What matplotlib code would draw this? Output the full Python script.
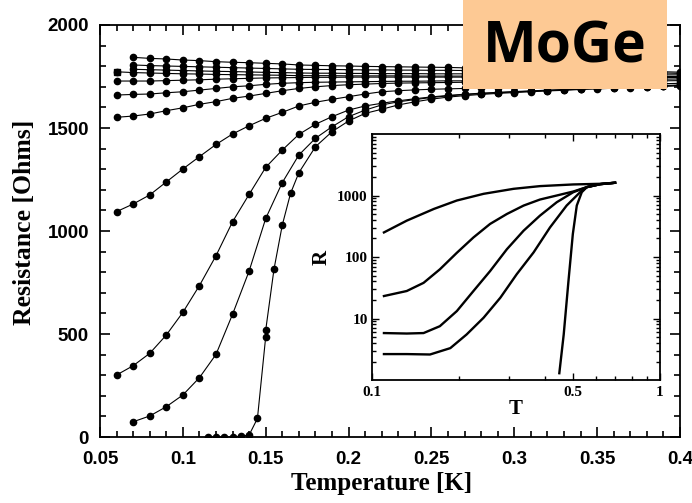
import matplotlib.pyplot as plt
import numpy as np
from matplotlib.ticker import MultipleLocator, FixedLocator, NullFormatter, FixedFormatter

# measured temperatures (K)
temps = [0.06, 0.07, 0.08, 0.09, 0.10, 0.11, 0.12, 0.13, 0.14, 0.15,
         0.16, 0.17, 0.18, 0.19, 0.20, 0.21, 0.22, 0.23, 0.24, 0.25,
         0.26, 0.27, 0.28, 0.29, 0.30, 0.31, 0.32, 0.33, 0.34, 0.35,
         0.36, 0.37, 0.38, 0.39, 0.40]

# resistance curves (Ohms), from top to bottom
r1 = [1843, 1838, 1835, 1830, 1827, 1822, 1819, 1817, 1814, 1811, 1806, 1804,
      1802, 1801, 1799, 1798, 1797, 1796, 1795, 1794, 1792, 1790, 1789, 1787,
      1785, 1784, 1782, 1780, 1779, 1777, 1776, 1774, 1773, 1771]
r2 = [1806, 1803, 1801, 1799, 1797, 1795, 1793, 1791, 1789, 1787, 1785, 1784,
      1784, 1783, 1782, 1782, 1781, 1781, 1780, 1780, 1779, 1778, 1777, 1776,
      1775, 1774, 1773, 1772, 1771, 1770, 1769, 1768, 1767, 1765]
r3 = [1785, 1783, 1781, 1779, 1777, 1775, 1774, 1772, 1770, 1769, 1767, 1766,
      1766, 1765, 1765, 1764, 1764, 1764, 1763, 1763, 1763, 1762, 1762, 1762,
      1761, 1761, 1760, 1760, 1760, 1759, 1759, 1759, 1758, 1758]
r4 = [1773, 1769, 1767, 1765, 1763, 1762, 1760, 1759, 1758, 1757, 1756, 1754,
      1754, 1754, 1753, 1753, 1753, 1753, 1752, 1752, 1752, 1752, 1752, 1751,
      1751, 1751, 1751, 1751, 1751, 1750, 1750, 1750, 1750, 1750, 1750]
r5 = [1728, 1728, 1728, 1730, 1732, 1734, 1737, 1739, 1741, 1743, 1744, 1745,
      1746, 1746, 1747, 1747, 1747, 1747, 1747, 1747, 1747, 1747, 1747, 1747,
      1747, 1746, 1746, 1746, 1746, 1746, 1746, 1745, 1745, 1745, 1745]
r6 = [1660, 1663, 1665, 1671, 1676, 1684, 1692, 1700, 1705, 1712, 1717, 1720,
      1722, 1723, 1724, 1725, 1726, 1727, 1727, 1728, 1729, 1729, 1730, 1731,
      1731, 1732, 1733, 1733, 1734, 1735, 1735, 1736, 1736, 1737, 1738]
r7 = [1552, 1558, 1568, 1584, 1598, 1615, 1628, 1644, 1655, 1668, 1681, 1692,
      1700, 1706, 1710, 1713, 1716, 1718, 1719, 1720, 1721, 1722, 1723, 1723,
      1724, 1725, 1725, 1726, 1726, 1727, 1727, 1728, 1728, 1729, 1730]
r8 = [1094, 1131, 1175, 1238, 1301, 1361, 1420, 1471, 1511, 1547, 1576, 1607,
      1625, 1639, 1652, 1665, 1676, 1681, 1685, 1688, 1690, 1692, 1694, 1696,
      1698, 1700, 1702, 1704, 1705, 1707, 1709, 1711, 1713, 1715, 1717]
r9 = [301, 346, 406, 495, 605, 735, 880, 1045, 1178, 1309, 1393, 1469, 1518,
      1555, 1587, 1607, 1620, 1632, 1642, 1651, 1658, 1664, 1669, 1673, 1677,
      1680, 1684, 1687, 1690, 1694, 1697, 1700, 1703, 1706, 1709]
r10 = [74, 102, 147, 204, 288, 401, 596, 806, 1061, 1235, 1369, 1450, 1506,
       1555, 1587, 1612, 1627, 1638, 1648, 1656, 1662, 1667, 1671, 1675, 1679,
       1682, 1685, 1689, 1692, 1695, 1698, 1701, 1704, 1707]
t11 = [0.115, 0.12, 0.125, 0.13, 0.135, 0.14, 0.145, 0.15, 0.15, 0.155, 0.16,
       0.165, 0.17] + temps[12:]
r11 = [0, 0, 0, 2, 3, 10, 90, 487, 519, 815, 1029, 1183, 1283,
       1409, 1482, 1534, 1571, 1591, 1612, 1627, 1640, 1650, 1657, 1663, 1668,
       1672, 1676, 1680, 1683, 1687, 1690, 1693, 1696, 1699, 1702, 1705]

# inset (log-log) curves
in_t1 = [0.110, 0.132, 0.164, 0.197, 0.244, 0.310, 0.383, 0.50, 0.62, 0.698]
in_r1 = [251, 390, 605, 829, 1065, 1284, 1421, 1513, 1550, 1611]
in_t2 = [0.110, 0.132, 0.151, 0.172, 0.197, 0.225, 0.257, 0.294, 0.336, 0.383,
         0.438, 0.50, 0.557, 0.62, 0.698]
in_r2 = [23.2, 28, 38, 63, 117, 208, 345, 501, 686, 860, 1000, 1162, 1368, 1530, 1611]
in_t3 = [0.110, 0.132, 0.151, 0.172, 0.197, 0.225, 0.257, 0.294, 0.336, 0.383,
         0.438, 0.50, 0.557, 0.62, 0.698]
in_r3 = [5.8, 5.7, 5.8, 7.5, 13.2, 28, 59, 134, 268, 471, 778, 1133, 1368, 1530, 1611]
in_t4 = [0.110, 0.132, 0.159, 0.187, 0.213, 0.244, 0.279, 0.318, 0.364, 0.415,
         0.474, 0.528, 0.557, 0.62, 0.698]
in_r4 = [2.64, 2.64, 2.6, 3.3, 5.5, 10.3, 21.8, 52.5, 119, 303, 687, 1133, 1368, 1530, 1611]
in_t5 = [0.447, 0.463, 0.481, 0.498, 0.514, 0.535, 0.557, 0.62, 0.698]
in_r5 = [1.29, 5.5, 41, 236, 687, 1133, 1368, 1530, 1611]

serif = "Liberation Serif"
sans = "Liberation Sans"

fig = plt.figure(figsize=(6.92, 5.03), dpi=100)
ax = fig.add_axes([0.1445, 0.1312, 0.8382, 0.8191])

curves = [(temps[1:], r1), (temps[1:], r2), (temps[1:], r3), (temps, r4),
          (temps, r5), (temps, r6), (temps, r7), (temps, r8), (temps, r9),
          (temps[1:], r10), (t11, r11)]
for t, r in curves:
    ax.plot(t, r, color="black", lw=0.8, marker="o", ms=4.5)
ax.plot(temps[0], r4[0], color="black", marker="s", ms=5)

ax.set_xlim(0.05, 0.4)
ax.set_ylim(0, 2000)
ax.xaxis.set_major_locator(MultipleLocator(0.05))
ax.xaxis.set_minor_locator(MultipleLocator(0.01))
ax.yaxis.set_major_locator(MultipleLocator(500))
ax.yaxis.set_minor_locator(MultipleLocator(100))
ax.set_xticks([0.05, 0.1, 0.15, 0.2, 0.25, 0.3, 0.35, 0.4])
ax.set_xticklabels(["0.05", "0.1", "0.15", "0.2", "0.25", "0.3", "0.35", "0.4"])
ax.tick_params(which="both", direction="in", top=True, right=True, width=1.2)
ax.tick_params(which="major", length=7)
ax.tick_params(which="minor", length=4)
ax.tick_params(axis="x", pad=10)
ax.tick_params(axis="y", pad=8)
for lab in ax.get_xticklabels() + ax.get_yticklabels():
    lab.set_fontfamily(sans)
    lab.set_fontweight("bold")
    lab.set_fontsize(13.5)
for s in ax.spines.values():
    s.set_linewidth(1.3)
ax.set_xlabel("Temperature [K]", fontfamily=serif, fontweight="bold", fontsize=18)
ax.set_ylabel("Resistance [Ohms]", fontfamily=serif, fontweight="bold", fontsize=18.5)
ax.xaxis.set_label_coords(0.486, -0.085)
ax.yaxis.set_label_coords(-0.11, 0.52)

# inset
ins = fig.add_axes([0.5376, 0.2445, 0.4162, 0.4891])
for t, r in [(in_t1, in_r1), (in_t2, in_r2), (in_t3, in_r3), (in_t4, in_r4), (in_t5, in_r5)]:
    ins.plot(t, r, color="black", lw=1.7)
ins.set_xscale("log")
ins.set_yscale("log")
ins.set_xlim(0.1, 1)
ins.set_ylim(1, 1e4)
ins.xaxis.set_major_locator(FixedLocator([0.1, 0.5, 1]))
ins.xaxis.set_major_formatter(FixedFormatter(["0.1", "0.5", "1"]))
ins.xaxis.set_minor_locator(FixedLocator([0.2, 0.3, 0.4, 0.6, 0.7, 0.8, 0.9]))
ins.xaxis.set_minor_formatter(NullFormatter())
ins.yaxis.set_major_locator(FixedLocator([10, 100, 1000]))
ins.yaxis.set_major_formatter(FixedFormatter(["10", "100", "1000"]))
ymin = [k * 10.0 ** e for e in range(0, 4) for k in range(2, 10)]
ins.yaxis.set_minor_locator(FixedLocator(ymin))
ins.yaxis.set_minor_formatter(NullFormatter())
ins.tick_params(which="both", direction="in", top=True, right=True, width=1)
ins.tick_params(which="major", length=5)
ins.tick_params(which="minor", length=3)
ins.tick_params(axis="y", pad=3)
ins.tick_params(axis="x", pad=4)
for lab in ins.get_xticklabels() + ins.get_yticklabels():
    lab.set_fontfamily(serif)
    lab.set_fontweight("bold")
    lab.set_fontsize(11)
for s in ins.spines.values():
    s.set_linewidth(1.3)
ins.set_xlabel("T", fontfamily=serif, fontweight="bold", fontsize=15, labelpad=0)
ins.set_ylabel("R", fontfamily=serif, fontweight="bold", fontsize=15, labelpad=4)

# MoGe label box
fig.patches.append(plt.Rectangle((0.669, 0.823), 0.295, 0.18, transform=fig.transFigure,
                                 facecolor="#FDC994", edgecolor="none", zorder=5))
fig.text(0.8165, 0.905, "MoGe", fontfamily="Open Sans", fontweight="bold", fontsize=41,
         ha="center", va="center", zorder=6)

fig.savefig("out.png", dpi=100)
